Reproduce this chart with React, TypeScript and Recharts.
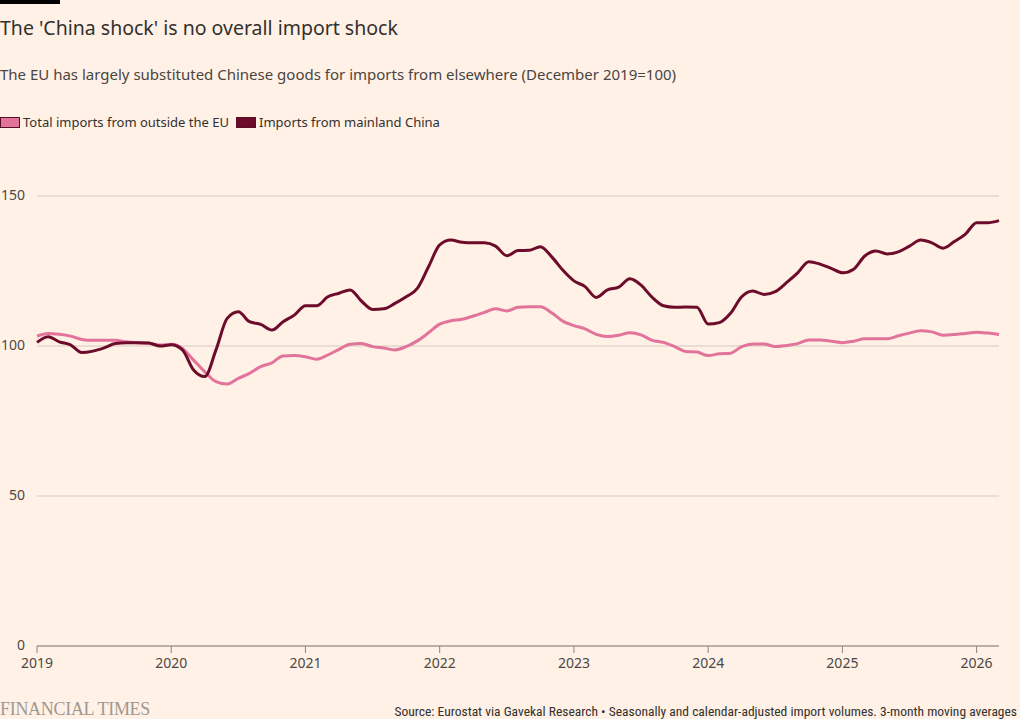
import { LineChart, Line, XAxis, YAxis, CartesianGrid } from 'recharts'

// monthly, Jan 2019 – Mar 2026 (December 2019 = 100)
const totalImports = [
  103.3, 104.2, 103.9, 103.3, 102.2, 101.9, 101.9, 101.9, 101.4, 101.1, 100.9, 100.3,
  100.6, 99.2, 95.3, 91.4, 88.1, 87.3, 89.2, 90.9, 93.1, 94.4, 96.7, 96.8,
  96.4, 95.6, 97.0, 98.9, 100.6, 100.8, 99.8, 99.3, 98.7, 99.8, 101.7, 104.4,
  107.3, 108.4, 108.9, 110.0, 111.2, 112.4, 111.7, 112.9, 113.1, 113.1, 111.1, 108.3,
  106.8, 105.7, 103.9, 103.2, 103.6, 104.4, 103.7, 101.9, 101.2, 99.8, 98.2, 98.0,
  96.8, 97.4, 97.6, 99.8, 100.7, 100.7, 99.8, 100.2, 100.8, 102.0, 102.0, 101.6,
  101.1, 101.6, 102.4, 102.4, 102.4, 103.4, 104.3, 105.1, 104.7, 103.6, 103.8, 104.2,
  104.6, 104.3, 103.8,
]

const chinaImports = [
  101.2, 103.1, 101.4, 100.4, 97.8, 98.3, 99.4, 100.8, 101.1, 101.1, 101.0, 100.0,
  100.4, 98.7, 92.0, 89.8, 98.7, 109.2, 111.4, 108.1, 107.2, 105.3, 108.1, 110.3,
  113.4, 113.4, 116.4, 117.6, 118.7, 115.0, 112.2, 112.4, 114.2, 116.4, 119.2, 126.4,
  133.7, 135.3, 134.6, 134.4, 134.4, 133.3, 130.1, 131.8, 131.9, 133.1, 129.8, 125.3,
  121.7, 119.8, 116.2, 118.7, 119.6, 122.4, 120.3, 116.2, 113.4, 112.9, 113.0, 112.9,
  107.3, 107.8, 110.9, 116.4, 118.3, 117.2, 118.1, 121.1, 124.4, 128.1, 127.3, 125.9,
  124.4, 125.6, 130.0, 131.7, 130.7, 131.4, 133.3, 135.3, 134.4, 132.6, 134.8, 137.3,
  141.1, 141.1, 141.8,
]

const yearLabels = ['2019', '2020', '2021', '2022', '2023', '2024', '2025', '2026']
const yTicks = [0, 50, 100, 150]

const data = totalImports.map((v, i) => ({ m: i, total: v, china: chinaImports[i] }))
const xTicks = yearLabels.map((_, i) => i * 12)

const PINK = '#e2739b'
const CLARET = '#6d0b2b'
const TEXT = '#33302e'
const FONT = '"Noto Sans", "Open Sans", sans-serif'

function YTick({ y, payload }: { y?: number; payload?: { value: number } }) {
  return (
    <text x={25} y={(y ?? 0) + 4} textAnchor="end" fill="#4d4845" fontSize={14} fontFamily={FONT}>
      {payload?.value}
    </text>
  )
}

function Swatch({ color }: { color: string }) {
  return (
    <span
      style={{
        display: 'inline-block',
        width: 18,
        height: 9,
        background: color,
        border: '1px solid #5a1024',
        marginRight: 3,
        verticalAlign: 'middle',
        position: 'relative',
        top: -1,
      }}
    />
  )
}

export default function App() {
  return (
    <div
      style={{
        position: 'fixed',
        left: 0,
        top: 0,
        width: 1020,
        height: 719,
        background: '#fff1e5',
        fontFamily: FONT,
        color: TEXT,
        overflow: 'hidden',
      }}
    >
      <div style={{ position: 'absolute', left: 0, top: 0, width: 60, height: 4, background: '#000' }} />
      <div style={{ position: 'absolute', left: 0, top: 14, fontSize: 19.5, lineHeight: '28px' }}>
        The 'China shock' is no overall import shock
      </div>
      <div style={{ position: 'absolute', left: 0, top: 63, fontSize: 15, lineHeight: '22px', color: '#4a4542' }}>
        The EU has largely substituted Chinese goods for imports from elsewhere (December 2019=100)
      </div>
      <div style={{ position: 'absolute', left: 0, top: 113, fontSize: 13, lineHeight: '18px', color: TEXT }}>
        <Swatch color={PINK} />
        <span style={{ marginRight: 7 }}>Total imports from outside the EU</span>
        <Swatch color={CLARET} />
        <span>Imports from mainland China</span>
      </div>

      <div style={{ position: 'absolute', left: 0, top: 0 }}>
        <LineChart
          width={1020}
          height={719}
          data={data}
          margin={{ top: 196, right: 21, bottom: 0, left: 0 }}
        >
          <CartesianGrid vertical={false} stroke="#d4c9bf" />
          <XAxis
            dataKey="m"
            type="number"
            domain={[0, 86]}
            ticks={xTicks}
            tickFormatter={(v: number) => yearLabels[v / 12]}
            axisLine={{ stroke: '#8a827c' }}
            tickLine={{ stroke: '#8a827c' }}
            tickSize={7}
            tickMargin={5}
            tick={{ fill: '#4d4845', fontSize: 14, fontFamily: FONT }}
            height={73}
          />
          <YAxis
            domain={[0, 150]}
            ticks={yTicks}
            width={37}
            axisLine={false}
            tickLine={false}
            tick={<YTick />}
          />
          <Line
            type="monotone"
            dataKey="total"
            stroke={PINK}
            strokeWidth={3}
            dot={false}
            isAnimationActive={false}
          />
          <Line
            type="monotone"
            dataKey="china"
            stroke={CLARET}
            strokeWidth={3}
            dot={false}
            isAnimationActive={false}
          />
        </LineChart>
      </div>

      <div
        style={{
          position: 'absolute',
          left: 0,
          top: 699,
          fontFamily: '"Liberation Serif", "DejaVu Serif", serif',
          fontSize: 18,
          letterSpacing: -0.3,
          color: '#a09891',
          lineHeight: '20px',
        }}
      >
        FINANCIAL TIMES
      </div>
      <div
        style={{
          position: 'absolute',
          right: 3,
          top: 703,
          fontFamily: '"Roboto", sans-serif',
          fontStretch: 'condensed',
          fontSize: 13.5,
          color: TEXT,
          lineHeight: '16px',
        }}
      >
        Source: Eurostat via Gavekal Research • Seasonally and calendar-adjusted import volumes. 3-month moving averages
      </div>
    </div>
  )
}
